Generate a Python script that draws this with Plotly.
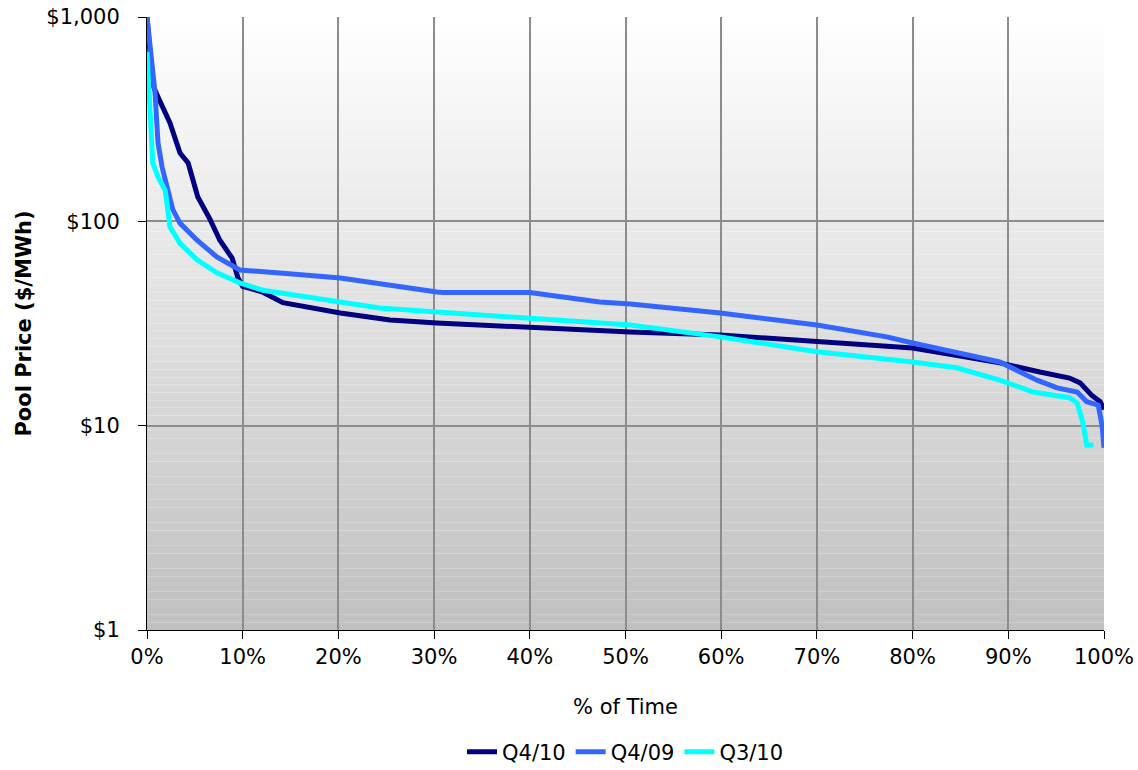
import plotly.graph_objects as go

# ---------------- data ----------------
q4_10_x = [0, 0.6, 1.15, 2.4, 3.45, 4.3, 5.3, 6.6, 7.6, 8.9, 9.5, 10.0, 12.1, 14.2, 20.2, 25.4, 30.3, 40, 50.5,
           59.9, 70, 80, 84.2, 89.1, 93.3, 96.4, 97.5, 98.7, 99.6, 100]
q4_10_y = [1000, 465, 406, 303, 216, 193, 132, 102, 81, 66, 53, 48, 45, 40, 35.6, 32.9, 31.8, 30.1, 28.7,
           27.8, 26, 24, 22.2, 20.3, 18.3, 17.1, 16.2, 14.1, 13.1, 12]

q4_09_x = [0, 0.3, 0.84, 1.15, 1.57, 2.1, 2.7, 3.45, 5.2, 7.3, 9.7, 13.9, 20.2, 30.3, 30.9, 40, 47.3, 50.5,
           59.9, 70, 77.3, 80, 84.2, 89.1, 93, 95.1, 97.2, 98.2, 99.4, 99.8, 100]
q4_09_y = [1000, 747, 425, 242, 185, 147, 114, 98, 81, 67, 57.8, 55.9, 52.8, 45.1, 44.8, 44.8, 40.3, 39.4,
           35.6, 31.1, 27.2, 25.4, 23, 20.5, 16.7, 15.3, 14.6, 13.1, 12.6, 10, 7.8]

q3_10_x = [0, 0.3, 0.6, 1.15, 1.9, 2.4, 3.45, 5.2, 7.3, 9.7, 12.1, 20.2, 24.3, 30.3, 40, 47.3, 50.5, 59.9,
           70, 80, 84.6, 89.1, 92.6, 96.4, 97.2, 97.8, 98.2, 98.9]
q3_10_y = [675, 351, 193, 165, 142, 94, 78, 65, 56, 50, 46, 40.3, 37.7, 36, 33.6, 31.8, 31.1, 27.2,
           23, 20.5, 19.2, 16.7, 14.6, 13.7, 12.9, 10.3, 8.05, 8.05]

series_names = ["Q4/10", "Q4/09", "Q3/10"]
series_colors = ["#000080", "#3366FF", "#00FFFF"]

y_tickvals = [1, 10, 100, 1000]
y_ticktext = ["$1", "$10", "$100", "$1,000"]
x_tickvals = list(range(0, 101, 10))
x_ticktext = [f"{v}%" for v in x_tickvals]

# ---------------- figure ----------------
fig = go.Figure()
for name, xs, ys, col in zip(series_names,
                             [q4_10_x, q4_09_x, q3_10_x],
                             [q4_10_y, q4_09_y, q3_10_y],
                             series_colors):
    fig.add_trace(go.Scatter(x=xs, y=ys, mode="lines", name=name,
                             line=dict(color=col, width=5)))

# gradient background (white at top -> grey at bottom)
n = 80
shapes = []
for i in range(n):
    t = (i + 0.5) / n  # 0 bottom -> 1 top
    c = int(round(192 + (255 - 192) * t))
    shapes.append(dict(type="rect", xref="x domain", yref="y domain",
                       x0=0, x1=1, y0=i / n, y1=(i + 1) / n,
                       fillcolor=f"rgb({c},{c},{c})", line=dict(width=0),
                       layer="below"))
fig.update_layout(shapes=shapes)

font_family = "DejaVu Sans"
fig.update_layout(
    width=1138, height=770,
    margin=dict(l=147, r=34, t=17, b=140, autoexpand=False),
    paper_bgcolor="white",
    plot_bgcolor="rgba(0,0,0,0)",
    font=dict(family=font_family, size=21, color="black"),
    showlegend=True,
    legend=dict(orientation="h", x=0.5, xanchor="center",
                yref="container", y=(770 - 752) / 770, yanchor="middle",
                font=dict(size=21), itemwidth=30, tracegroupgap=0),
)
fig.update_xaxes(
    range=[0, 100], tickvals=x_tickvals, ticktext=x_ticktext,
    showgrid=True, gridcolor="#8c8c8c", gridwidth=2,
    showline=True, linecolor="black", linewidth=1,
    ticks="outside", ticklen=8, tickcolor="black",
    tickfont=dict(size=21), automargin=False,
    title=dict(text="% of Time", font=dict(size=21), standoff=31),
    zeroline=False,
)
fig.update_yaxes(
    type="log", range=[0, 3], tickvals=y_tickvals, ticktext=y_ticktext,
    showgrid=True, gridcolor="#8c8c8c", gridwidth=2,
    showline=True, linecolor="black", linewidth=1,
    ticks="outside", ticklen=8, tickcolor="black",
    tickfont=dict(size=21), ticklabelstandoff=14, automargin=False,
    title=dict(text="<b>Pool Price ($/MWh)</b>", font=dict(size=21), standoff=8),
    zeroline=False,
)

fig.write_html("out.html")
